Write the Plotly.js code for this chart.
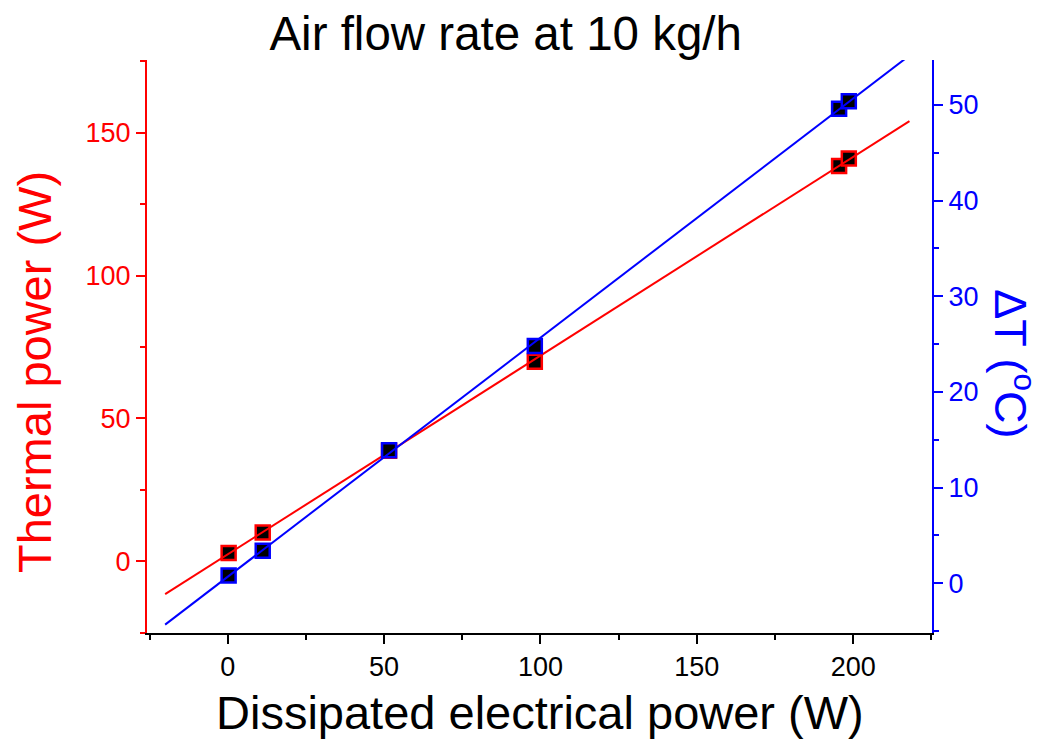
<!DOCTYPE html>
<html>
<head>
<meta charset="utf-8">
<script src="https://cdn.plot.ly/plotly-3.0.1.min.js"></script>
<style>html,body{margin:0;padding:0;background:#fff;}#chart{width:1047px;height:751px;}</style>
</head>
<body>
<div id="chart"></div>
<script>
// Data
var dissipatedPower = [0.3, 11.2, 51.6, 98.2, 195.5, 198.6];      // W (x)
var thermalPower    = [2.9, 10.1, 38.7, 69.9, 138.4, 141.0];     // W (left axis)
var deltaT          = [0.8, 3.4, 13.9, 24.8, 49.6, 50.4];        // °C (right axis)
var fitExtent       = [-20, 218];                                // range of the drawn linear fits
var xTickVals = [0, 50, 100, 150, 200];
var yLeftTickVals = [0, 50, 100, 150];
var yRightTickVals = [0, 10, 20, 30, 40, 50];

function linfit(x, y) {
  var n = x.length, sx = 0, sy = 0, sxx = 0, sxy = 0;
  for (var i = 0; i < n; i++) { sx += x[i]; sy += y[i]; sxx += x[i]*x[i]; sxy += x[i]*y[i]; }
  var b = (n*sxy - sx*sy) / (n*sxx - sx*sx);
  var a = (sy - b*sx) / n;
  return fitExtent.map(function (v) { return a + b*v; });
}

var FONT = 'Liberation Sans, Arial, sans-serif';
var RED = '#ff0000', BLUE = '#0000ff';

var traces = [
  {x: dissipatedPower, y: thermalPower, type: 'scatter', mode: 'markers', xaxis: 'x', yaxis: 'y',
   marker: {symbol: 'square', size: 14, color: '#000', line: {color: RED, width: 2.5}}, showlegend: false, hoverinfo: 'x+y'},
  {x: fitExtent, y: linfit(dissipatedPower, thermalPower), type: 'scatter', mode: 'lines', xaxis: 'x', yaxis: 'y',
   line: {color: RED, width: 2}, showlegend: false, hoverinfo: 'skip'},
  {x: dissipatedPower, y: deltaT, type: 'scatter', mode: 'markers', xaxis: 'x', yaxis: 'y2',
   marker: {symbol: 'square', size: 14, color: '#000', line: {color: BLUE, width: 2.5}}, showlegend: false, hoverinfo: 'x+y'},
  {x: fitExtent, y: linfit(dissipatedPower, deltaT), type: 'scatter', mode: 'lines', xaxis: 'x', yaxis: 'y2',
   line: {color: BLUE, width: 2}, showlegend: false, hoverinfo: 'skip'}
];

var layout = {
  width: 1047, height: 751,
  paper_bgcolor: '#fff', plot_bgcolor: '#fff',
  margin: {l: 147, r: 115, t: 60, b: 118, pad: 0},
  font: {family: FONT, color: '#000'},
  title: {text: 'Air flow rate at 10 kg/h', font: {family: FONT, size: 47.5, color: '#000'},
          xref: 'container', yref: 'container', x: 0.483, y: 1 - 33/751, xanchor: 'center', yanchor: 'middle'},
  xaxis: {
    range: [-25.8, 225.2], showgrid: false, zeroline: false,
    showline: true, linecolor: '#000', linewidth: 2, mirror: false,
    ticks: 'outside', ticklen: 9, tickwidth: 2, tickcolor: '#000',
    tickvals: xTickVals, ticktext: xTickVals.map(String),
    tickfont: {family: FONT, size: 27, color: '#000'},
    minor: {dtick: 25, tick0: 0, ticks: 'outside', ticklen: 5, tickwidth: 2, tickcolor: '#000', showgrid: false}
  },
  yaxis: {
    range: [-25.1, 175.5], showgrid: false, zeroline: false,
    showline: true, linecolor: RED, linewidth: 2,
    ticks: 'outside', ticklen: 9, tickwidth: 2, tickcolor: RED,
    tickvals: yLeftTickVals, ticktext: yLeftTickVals.map(String),
    tickfont: {family: FONT, size: 27, color: RED},
    minor: {dtick: 25, tick0: 0, ticks: 'outside', ticklen: 5, tickwidth: 2, tickcolor: RED, showgrid: false}
  },
  yaxis2: {
    overlaying: 'y', side: 'right', anchor: 'x',
    range: [-5.2, 54.7], showgrid: false, zeroline: false,
    showline: true, linecolor: BLUE, linewidth: 2,
    ticks: 'outside', ticklen: 9, tickwidth: 2, tickcolor: BLUE,
    tickvals: yRightTickVals, ticktext: yRightTickVals.map(String),
    tickfont: {family: FONT, size: 27, color: BLUE},
    minor: {dtick: 5, tick0: 0, ticks: 'outside', ticklen: 5, tickwidth: 2, tickcolor: BLUE, showgrid: false}
  },
  annotations: [
    {text: 'Dissipated electrical power (W)', xref: 'paper', yref: 'paper', x: 0.5, y: -0.138,
     xanchor: 'center', yanchor: 'middle', showarrow: false, font: {family: FONT, size: 47, color: '#000'}},
    {text: 'Thermal power (W)', xref: 'paper', yref: 'paper', x: -0.143, y: 0.455, textangle: -90,
     xanchor: 'center', yanchor: 'middle', showarrow: false, font: {family: FONT, size: 47, color: RED}},
    {text: 'ΔT (<sup>o</sup>C)', xref: 'paper', yref: 'paper', x: 1.105, y: 0.47, textangle: 90,
     xanchor: 'center', yanchor: 'middle', showarrow: false, font: {family: FONT, size: 45, color: BLUE}}
  ]
};

Plotly.newPlot('chart', traces, layout, {displayModeBar: false, staticPlot: true});
</script>
</body>
</html>
